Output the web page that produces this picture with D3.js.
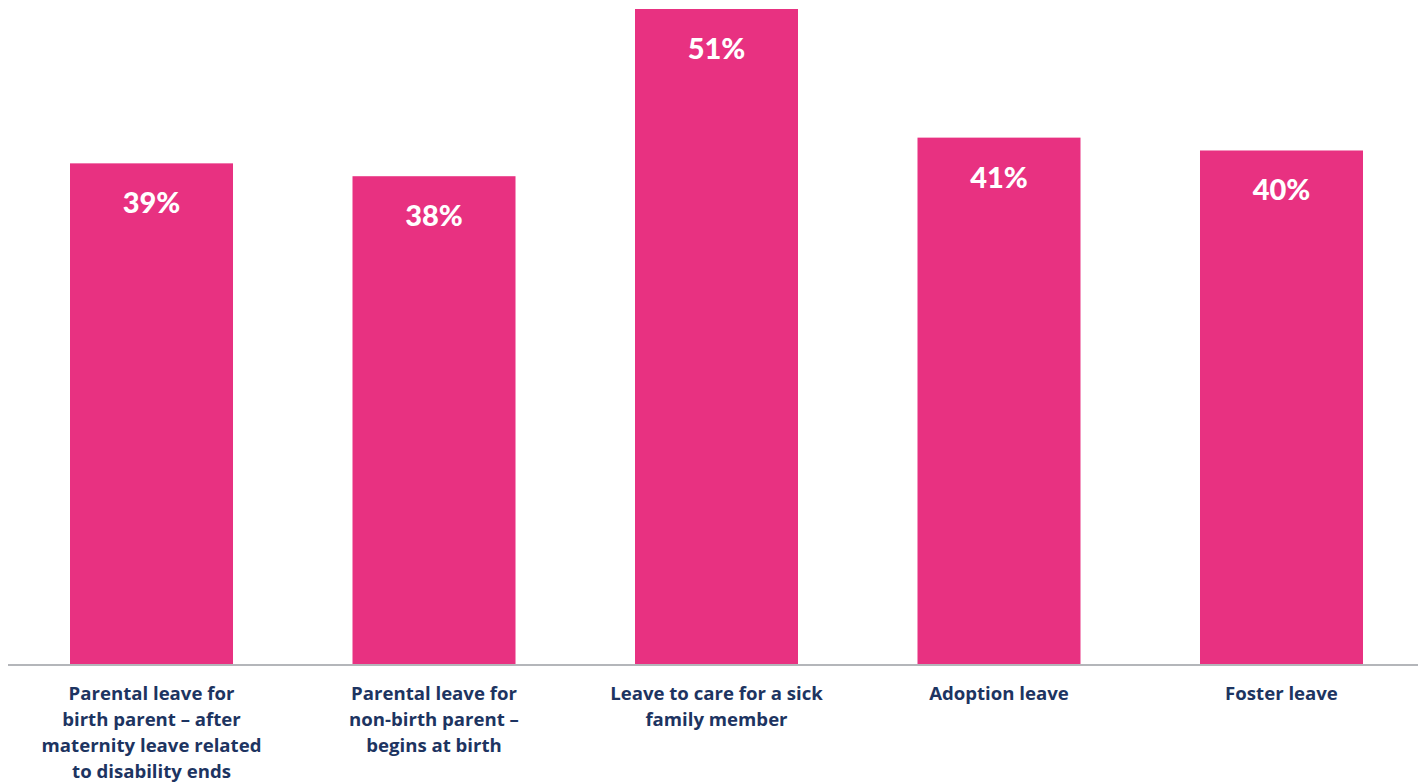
<!DOCTYPE html>
<html>
<head>
<meta charset="utf-8">
<script src="https://cdn.jsdelivr.net/npm/d3@7"></script>
<style>
  body { margin: 0; background: #fff; }
  text { font-family: Lato, "Open Sans", sans-serif; font-weight: bold; }
  text.lab { font-family: "Open Sans", Lato, sans-serif; }
</style>
</head>
<body>
<script>
var w = 1418;
var h = 782;

var categories = [
    ["Parental leave for", "birth parent \u2013 after", "maternity leave related", "to disability ends"],
    ["Parental leave for", "non-birth parent \u2013", "begins at birth"],
    ["Leave to care for a sick", "family member"],
    ["Adoption leave"],
    ["Foster leave"]
];
var values = [39, 38, 51, 41, 40];

var baseY = 665;

var xScale = d3.scaleBand()
    .domain(d3.range(values.length))
    .range([20, 1413])
    .paddingInner(0.423)
    .paddingOuter(0.177);

var yScale = d3.scaleLinear()
    .domain([0, 51])
    .range([baseY, 9]);

var svg = d3.select("body")
    .append("svg")
    .attr("width", w)
    .attr("height", h);

svg.selectAll("rect")
    .data(values)
    .enter()
    .append("rect")
    .attr("x", function(d, i) { return xScale(i); })
    .attr("y", function(d) { return yScale(d); })
    .attr("width", xScale.bandwidth())
    .attr("height", function(d) { return baseY - yScale(d); })
    .attr("fill", "#e83181");

// baseline
svg.append("line")
    .attr("x1", 8)
    .attr("x2", w)
    .attr("y1", baseY)
    .attr("y2", baseY)
    .attr("stroke", "#b4b6ba")
    .attr("stroke-width", 2);

svg.selectAll(".val")
    .data(values)
    .enter()
    .append("text")
    .attr("class", "val")
    .attr("text-anchor", "middle")
    .attr("x", function(d, i) { return xScale(i) + xScale.bandwidth() / 2; })
    .attr("y", function(d) { return yScale(d) + 50; })
    .attr("fill", "#fff")
    .style("font-size", "29px")
    .style("font-weight", "900")
    .text(function(d) { return d + "%"; });

var labels = svg.selectAll(".lab")
    .data(categories)
    .enter()
    .append("text")
    .attr("class", "lab")
    .attr("text-anchor", "middle")
    .attr("fill", "#1d3461")
    .style("font-size", "18.6px");

labels.selectAll("tspan")
    .data(function(d, i) { return d.map(function(t) { return [t, i]; }); })
    .enter()
    .append("tspan")
    .attr("x", function(d) { return xScale(d[1]) + xScale.bandwidth() / 2; })
    .attr("y", function(d, j) { return 700 + j * 26; })
    .text(function(d) { return d[0]; });
</script>
</body>
</html>
